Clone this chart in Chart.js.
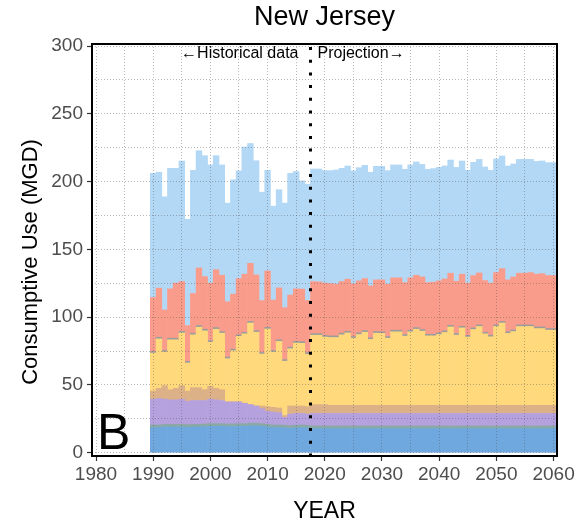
<!DOCTYPE html>
<html lang="en">

<head>
    <meta charset="UTF-8">
    <title>New Jersey</title>
    <script src="https://cdn.jsdelivr.net/npm/chart.js@4.4.0/dist/chart.umd.min.js"></script>
    <style>
        html, body { margin: 0; padding: 0; background: #fff; }
    </style>
</head>

<body>
    <canvas id="chart" width="579" height="525"></canvas>

<script>
    // years: 1990-2017 historical, 2018-2060 projection
    const years = [1990, 1991, 1992, 1993, 1994, 1995, 1996, 1997, 1998, 1999,
        2000, 2001, 2002, 2003, 2004, 2005, 2006, 2007, 2008, 2009,
        2010, 2011, 2012, 2013, 2014, 2015, 2016, 2017, 2018, 2019,
        2020, 2021, 2022, 2023, 2024, 2025, 2026, 2027, 2028, 2029,
        2030, 2031, 2032, 2033, 2034, 2035, 2036, 2037, 2038, 2039,
        2040, 2041, 2042, 2043, 2044, 2045, 2046, 2047, 2048, 2049,
        2050, 2051, 2052, 2053, 2054, 2055, 2056, 2057, 2058, 2059, 2060];
    const splitYear = 2017.5;

    // stacked layers, bottom to top (MGD)
    const blueLayer = [18.5, 18.5, 19, 19, 19, 19, 18.8, 19, 19, 19.2,
        19.5, 19.5, 19.5, 19.3, 19.3, 19.4, 19.5, 19.8, 19.8, 19.5,
        19, 18.5, 18.5, 18.3, 18, 18.3, 18.5, 18.2, 17.8, 17.8,
        17.8, 17.8, 17.8, 17.8, 17.8, 17.8, 17.8, 17.8, 17.8, 17.8,
        17.8, 17.8, 17.8, 17.8, 17.8, 17.8, 17.8, 17.8, 17.8, 17.8,
        17.8, 17.8, 17.8, 17.8, 17.8, 17.8, 17.8, 17.8, 17.8, 17.8,
        17.8, 17.8, 17.8, 17.8, 17.8, 17.8, 17.8, 17.8, 17.8, 17.8, 17.8];
    const greenLayer = [2, 2, 2, 2, 2, 2, 2, 2, 2, 2,
        2, 2, 2, 2, 2, 2, 2, 2, 2, 2,
        2, 2, 2, 2, 2, 2, 2, 2, 2, 2,
        2, 2, 2, 2, 2, 2, 2, 2, 2, 2,
        2, 2, 2, 2, 2, 2, 2, 2, 2, 2,
        2, 2, 2, 2, 2, 2, 2, 2, 2, 2,
        2, 2, 2, 2, 2, 2, 2, 2, 2, 2, 2];
    const purpleLayer = [19, 19.5, 18.5, 18, 18, 18.5, 17.2, 17.5, 17.5, 17.3,
        18, 17.5, 17, 16.2, 16.2, 16.1, 15, 13.7, 12.7, 11,
        9.5, 9.5, 9, 5.7, 8.5, 8.7, 8.5, 8.3, 9.2, 9.2,
        9.2, 9.2, 9.2, 9.2, 9.2, 9.2, 9.2, 9.2, 9.2, 9.2,
        9.2, 9.2, 9.2, 9.2, 9.2, 9.2, 9.2, 9.2, 9.2, 9.2,
        9.2, 9.2, 9.2, 9.2, 9.2, 9.2, 9.2, 9.2, 9.2, 9.2,
        9.2, 9.2, 9.2, 9.2, 9.2, 9.2, 9.2, 9.2, 9.2, 9.2, 9.2];
    const tanLayer = [6, 7.5, 10, 7.5, 8.5, 10, 7.5, 9.5, 9.5, 8,
        9.5, 8.5, 8, 0, 0, 0, 0, 0, 0, 2,
        3.5, 3.5, 3.5, 1.5, 6, 5.5, 5.5, 5.5, 6.5, 6.5,
        6.5, 6, 6, 6, 6, 6, 6, 6, 6, 6,
        6, 6, 6, 6, 6, 6, 6, 6, 6, 6,
        6, 6, 6, 6, 6, 6, 6, 6, 6, 6,
        6, 6, 6, 6, 6, 6, 6, 6, 6, 6, 6];
    const yellowLayer = [28, 36.5, 24.8, 36.8, 35.8, 38.9, 20.7, 39, 44.6, 43.4,
        32.6, 43.6, 41.7, 31.9, 37.7, 48.3, 51.2, 60.2, 54.4, 38.3,
        57.3, 40.8, 49.1, 40, 42.2, 46.4, 46.2, 38.6, 51.2, 51.2,
        49.8, 50, 50, 52, 53.4, 49.5, 52.2, 53.9, 48.6, 53.2,
        53, 49.5, 54.2, 54.2, 51, 54.2, 56.1, 54.7, 51.2, 51.2,
        52.2, 53.7, 57.8, 51.7, 57.1, 50.3, 55.9, 58.1, 52.7, 50.5,
        58.1, 60.7, 53, 54.4, 58.1, 58.1, 58.1, 56.6, 56.6, 55.4, 55.4];
    const grayLayer = [1.2, 1.2, 1.2, 1.2, 1.2, 1.2, 1.2, 1.2, 1.2, 1.2,
        1.2, 1.2, 1.2, 1.2, 1.2, 1.2, 1.2, 1.2, 1.2, 1.2,
        1.2, 1.2, 1.2, 1.2, 1.2, 1.2, 1.2, 1.2, 1.2, 1.2,
        1.2, 1.2, 1.2, 1.2, 1.2, 1.2, 1.2, 1.2, 1.2, 1.2,
        1.2, 1.2, 1.2, 1.2, 1.2, 1.2, 1.2, 1.2, 1.2, 1.2,
        1.2, 1.2, 1.2, 1.2, 1.2, 1.2, 1.2, 1.2, 1.2, 1.2,
        1.2, 1.2, 1.2, 1.2, 1.2, 1.2, 1.2, 1.2, 1.2, 1.2, 1.2];
    const redLayer = [39.8, 36.2, 29.8, 36.4, 40.6, 36.7, 26.4, 29.3, 42.5, 38.8,
        42.3, 42.7, 41.5, 40.8, 40.6, 41.5, 42.8, 42.8, 41.1, 38.3,
        41.6, 37.1, 38.3, 38.3, 38.4, 38.8, 38.8, 38.5, 38.4, 38.1,
        38.6, 38.6, 38.1, 38.1, 38.4, 38.9, 38.4, 38.4, 38.3, 38.1,
        38.3, 38.6, 38.6, 38.6, 38.3, 38.6, 38.6, 38.8, 38.1, 38.4,
        38.4, 38.3, 38.4, 38.6, 38.4, 38.6, 38.6, 38.3, 38.1, 38.4,
        38.6, 38.9, 38.3, 39.1, 38.1, 38.1, 38.6, 38.9, 39.3, 39.1, 39.1];
    const lightBlueLayer = [91.6, 85.5, 83.5, 88.9, 84.7, 88.9, 78.4, 90.8, 86.5, 89.2,
        87.2, 84.1, 81.4, 72.7, 84.3, 79.4, 93.8, 88.4, 84.2, 79.9,
        74.2, 69.3, 72.4, 77.1, 89.8, 86.5, 79.9, 85.8, 83, 83.3,
        83, 83.3, 84.3, 83.5, 83.5, 83.3, 83.5, 83.5, 83.8, 83.8,
        83.8, 83.8, 83.3, 83.3, 83.6, 83.3, 83.6, 83, 83.6, 83.8,
        83.7, 83.3, 83.5, 84, 83.5, 83.2, 83.5, 83.8, 83.8, 83.2,
        83.8, 83.1, 84, 83.3, 84, 84, 83.5, 83.2, 83.1, 83.3, 83.3];

    const xMajor = [1980, 1990, 2000, 2010, 2020, 2030, 2040, 2050, 2060];
    const xMinor = [1985, 1995, 2005, 2015, 2025, 2035, 2045, 2055];
    const yMajor = [0, 50, 100, 150, 200, 250, 300];
    const yMinor = [25, 75, 125, 175, 225, 275];

    const FONT = '"Liberation Sans", Arial, sans-serif';
    const gridColor = 'rgba(80, 80, 80, 0.4)';

    function layer(label, values, color) {
        return {
            label: label,
            data: values,
            backgroundColor: color,
            borderWidth: 0,
            barPercentage: 1,
            categoryPercentage: 1
        };
    }

    function majorTickColor(list) {
        return (c) => (c.tick && list.includes(c.tick.value)) ? '#333' : 'rgba(0,0,0,0)';
    }

    const decorations = {
        id: 'decorations',
        afterDraw(chart) {
            const ctx = chart.ctx;
            const a = chart.chartArea;
            const x = chart.scales.x;
            ctx.save();

            // panel frame
            ctx.strokeStyle = '#000';
            ctx.lineWidth = 2;
            ctx.strokeRect(a.left, a.top, a.right - a.left, a.bottom - a.top);

            // historical / projection divider
            const xd = x.getPixelForValue(splitYear);
            ctx.setLineDash([3, 9.7]);
            ctx.lineWidth = 3;
            ctx.beginPath();
            ctx.moveTo(xd, a.top + 3);
            ctx.lineTo(xd, a.bottom);
            ctx.stroke();
            ctx.setLineDash([]);

            ctx.fillStyle = '#000';
            ctx.font = '16px ' + FONT;
            ctx.textBaseline = 'middle';
            ctx.textAlign = 'right';
            ctx.fillText('\u2190Historical data', xd - 12, a.top + 10);
            ctx.textAlign = 'left';
            ctx.fillText('Projection\u2192', xd + 7, a.top + 10);

            // panel letter
            ctx.font = '50px ' + FONT;
            ctx.textBaseline = 'alphabetic';
            ctx.fillText('B', a.left + 5, a.bottom - 7);

            // title
            ctx.font = '27px ' + FONT;
            ctx.textAlign = 'center';
            ctx.textBaseline = 'middle';
            ctx.fillText('New Jersey', (a.left + a.right) / 2, 18);

            // y axis title
            ctx.font = '22px ' + FONT;
            ctx.translate(31, 262);
            ctx.rotate(-Math.PI / 2);
            ctx.fillText('Consumptive Use (MGD)', 0, 0);
            ctx.restore();
        }
    };

    new Chart(document.getElementById('chart'), {
        type: 'bar',
        data: {
            labels: years,
            datasets: [
                layer('Layer 1', blueLayer, '#6FA8DE'),
                layer('Layer 2', greenLayer, '#8AA9A6'),
                layer('Layer 3', purpleLayer, '#B6A1DF'),
                layer('Layer 4', tanLayer, '#DDB188'),
                layer('Layer 5', yellowLayer, '#FFD97B'),
                layer('Layer 6', grayLayer, '#9C9C9C'),
                layer('Layer 7', redLayer, '#FA9C8C'),
                layer('Layer 8', lightBlueLayer, '#B3D8F5')
            ]
        },
        options: {
            responsive: false,
            animation: false,
            layout: {
                autoPadding: false,
                padding: { left: 0, right: 22, top: 44, bottom: 0 }
            },
            plugins: {
                legend: { display: false },
                title: { display: false },
                tooltip: { enabled: false }
            },
            scales: {
                x: {
                    type: 'linear',
                    stacked: true,
                    offset: false,
                    min: 1979.3,
                    max: 2060.6,
                    afterBuildTicks: (s) => {
                        s.ticks = xMajor.concat(xMinor).sort((p, q) => p - q).map(v => ({ value: v }));
                    },
                    afterFit: (s) => { s.height = 69; s.paddingLeft = 0; s.paddingRight = 0; },
                    border: { display: false, dash: [1, 2] },
                    grid: {
                        z: 1,
                        offset: false,
                        color: gridColor,
                        lineWidth: 1,
                        tickLength: 5,
                        tickWidth: 1.2,
                        tickBorderDash: [],
                        tickColor: majorTickColor(xMajor)
                    },
                    ticks: {
                        autoSkip: false,
                        maxRotation: 0,
                        padding: 2,
                        color: '#4D4D4D',
                        font: { family: FONT, size: 19 },
                        callback: (v) => xMajor.includes(v) ? String(v) : ''
                    },
                    title: {
                        display: true,
                        text: 'YEAR',
                        color: '#000',
                        font: { family: FONT, size: 23 },
                        padding: { top: 0, bottom: 0 }
                    }
                },
                y: {
                    stacked: true,
                    min: -2.4,
                    max: 301.5,
                    afterBuildTicks: (s) => {
                        s.ticks = yMajor.concat(yMinor).sort((p, q) => p - q).map(v => ({ value: v }));
                    },
                    afterFit: (s) => { s.width = 92; s.paddingTop = 0; s.paddingBottom = 0; },
                    border: { display: false, dash: [1, 2] },
                    grid: {
                        z: 1,
                        color: gridColor,
                        lineWidth: 1,
                        tickLength: 5,
                        tickWidth: 1.2,
                        tickBorderDash: [],
                        tickColor: majorTickColor(yMajor)
                    },
                    ticks: {
                        padding: 4,
                        color: '#4D4D4D',
                        font: { family: FONT, size: 19 },
                        callback: (v) => yMajor.includes(v) ? String(v) : ''
                    }
                }
            }
        },
        plugins: [decorations]
    });
</script>
</body>

</html>
